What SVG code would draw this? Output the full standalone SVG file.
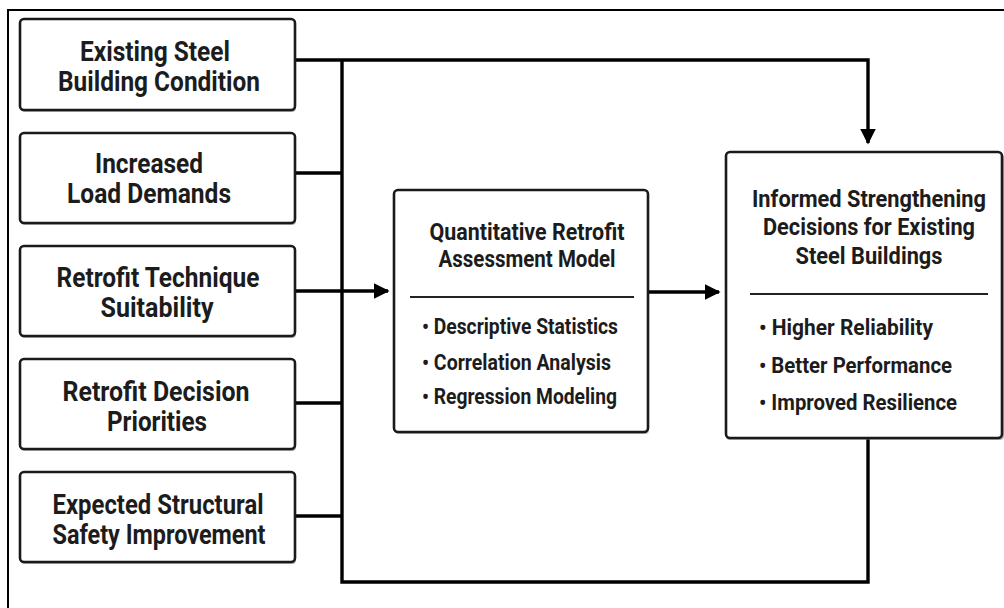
<svg xmlns="http://www.w3.org/2000/svg" width="1004" height="608" viewBox="0 0 1004 608">
  <defs>
    <style>
      .box { fill: #ffffff; stroke: #1a1a1a; stroke-width: 2.6; }
      .shadow { fill: #777777; opacity: 0.55; }
      .wire { fill: none; stroke: #000000; stroke-width: 3.4; stroke-linejoin: miter; }
      .rule { stroke: #222222; stroke-width: 2.2; }
      .t { font-family: Roboto, "Liberation Sans", sans-serif; font-weight: bold; fill: #1c1c1c; text-anchor: middle; }
      .in { font-size: 28px; }
      .hd { font-size: 23.5px; }
      .li { font-size: 21.5px; text-anchor: start; }
    </style>
    <marker id="arrow" viewBox="0 0 10 10" refX="9" refY="5" markerWidth="4.6" markerHeight="5" markerUnits="strokeWidth" orient="auto">
      <path d="M0,0 L10,5 L0,10 z" fill="#000000"/>
    </marker>
  </defs>

  <rect width="1004" height="608" fill="#ffffff"/>
  <!-- outer frame -->
  <path d="M8,610 L8,10 L1006,10" fill="none" stroke="#000000" stroke-width="2"/>

  <!-- connectors -->
  <g id="connectors">
    <path class="wire" d="M295,60 L868,60 L868,143" marker-end="url(#arrow)"/>
    <path class="wire" d="M295,173 L342,173"/>
    <path class="wire" d="M295,291 L388,291" marker-end="url(#arrow)"/>
    <path class="wire" d="M295,403 L342,403"/>
    <path class="wire" d="M295,516 L342,516"/>
    <path class="wire" d="M342,60 L342,582 L868,582 L868,438"/>
    <path class="wire" d="M648,292 L719,292" marker-end="url(#arrow)"/>
  </g>

  <!-- input factors -->
  <g id="existing-condition">
    <rect class="shadow" x="21" y="21" width="275" height="91" rx="4"/>
    <rect class="box" x="20" y="19" width="275" height="91" rx="4"/>
    <text class="t in" x="155" y="61" textLength="150" lengthAdjust="spacingAndGlyphs">Existing Steel</text>
    <text class="t in" x="159" y="91" textLength="202" lengthAdjust="spacingAndGlyphs">Building Condition</text>
  </g>
  <g id="load-demands">
    <rect class="shadow" x="21" y="135" width="275" height="90" rx="4"/>
    <rect class="box" x="20" y="133" width="275" height="90" rx="4"/>
    <text class="t in" x="149" y="173" textLength="108" lengthAdjust="spacingAndGlyphs">Increased</text>
    <text class="t in" x="149" y="203" textLength="164" lengthAdjust="spacingAndGlyphs">Load Demands</text>
  </g>
  <g id="technique-suitability">
    <rect class="shadow" x="21" y="248" width="275" height="90" rx="4"/>
    <rect class="box" x="20" y="246" width="275" height="90" rx="4"/>
    <text class="t in" x="158" y="287" textLength="203" lengthAdjust="spacingAndGlyphs">Retrofit Technique</text>
    <text class="t in" x="157" y="317" textLength="113" lengthAdjust="spacingAndGlyphs">Suitability</text>
  </g>
  <g id="decision-priorities">
    <rect class="shadow" x="21" y="361" width="275" height="90" rx="4"/>
    <rect class="box" x="20" y="359" width="275" height="90" rx="4"/>
    <text class="t in" x="156" y="401" textLength="187" lengthAdjust="spacingAndGlyphs">Retrofit Decision</text>
    <text class="t in" x="157" y="431" textLength="100" lengthAdjust="spacingAndGlyphs">Priorities</text>
  </g>
  <g id="safety-improvement">
    <rect class="shadow" x="21" y="474" width="275" height="90" rx="4"/>
    <rect class="box" x="20" y="472" width="275" height="90" rx="4"/>
    <text class="t in" x="158" y="514" textLength="211" lengthAdjust="spacingAndGlyphs">Expected Structural</text>
    <text class="t in" x="159" y="544" textLength="213" lengthAdjust="spacingAndGlyphs">Safety Improvement</text>
  </g>

  <!-- assessment model -->
  <g id="assessment-model">
    <rect class="shadow" x="395" y="192" width="254" height="242" rx="4"/>
    <rect class="box" x="394" y="190" width="254" height="242" rx="4"/>
    <text class="t hd" x="527" y="240" textLength="195" lengthAdjust="spacingAndGlyphs">Quantitative Retrofit</text>
    <text class="t hd" x="527" y="267" textLength="177" lengthAdjust="spacingAndGlyphs">Assessment Model</text>
    <line class="rule" x1="410" y1="297" x2="634" y2="297"/>
    <text class="t li" x="422" y="334" textLength="196" lengthAdjust="spacingAndGlyphs">• Descriptive Statistics</text>
    <text class="t li" x="422" y="370" textLength="189" lengthAdjust="spacingAndGlyphs">• Correlation Analysis</text>
    <text class="t li" x="422" y="404" textLength="195" lengthAdjust="spacingAndGlyphs">• Regression Modeling</text>
  </g>

  <!-- outcome -->
  <g id="strengthening-decisions">
    <rect class="shadow" x="726" y="154" width="278" height="286" rx="4"/>
    <rect class="box" x="726" y="152" width="276" height="286" rx="4"/>
    <text class="t hd" x="869" y="207" textLength="234" lengthAdjust="spacingAndGlyphs">Informed Strengthening</text>
    <text class="t hd" x="869" y="235" textLength="212" lengthAdjust="spacingAndGlyphs">Decisions for Existing</text>
    <text class="t hd" x="869" y="264" textLength="147" lengthAdjust="spacingAndGlyphs">Steel Buildings</text>
    <line class="rule" x1="750" y1="294" x2="988" y2="294"/>
    <text class="t li" x="759" y="335" textLength="174" lengthAdjust="spacingAndGlyphs">• Higher Reliability</text>
    <text class="t li" x="759" y="373" textLength="193" lengthAdjust="spacingAndGlyphs">• Better Performance</text>
    <text class="t li" x="759" y="410" textLength="198" lengthAdjust="spacingAndGlyphs">• Improved Resilience</text>
  </g>
</svg>
